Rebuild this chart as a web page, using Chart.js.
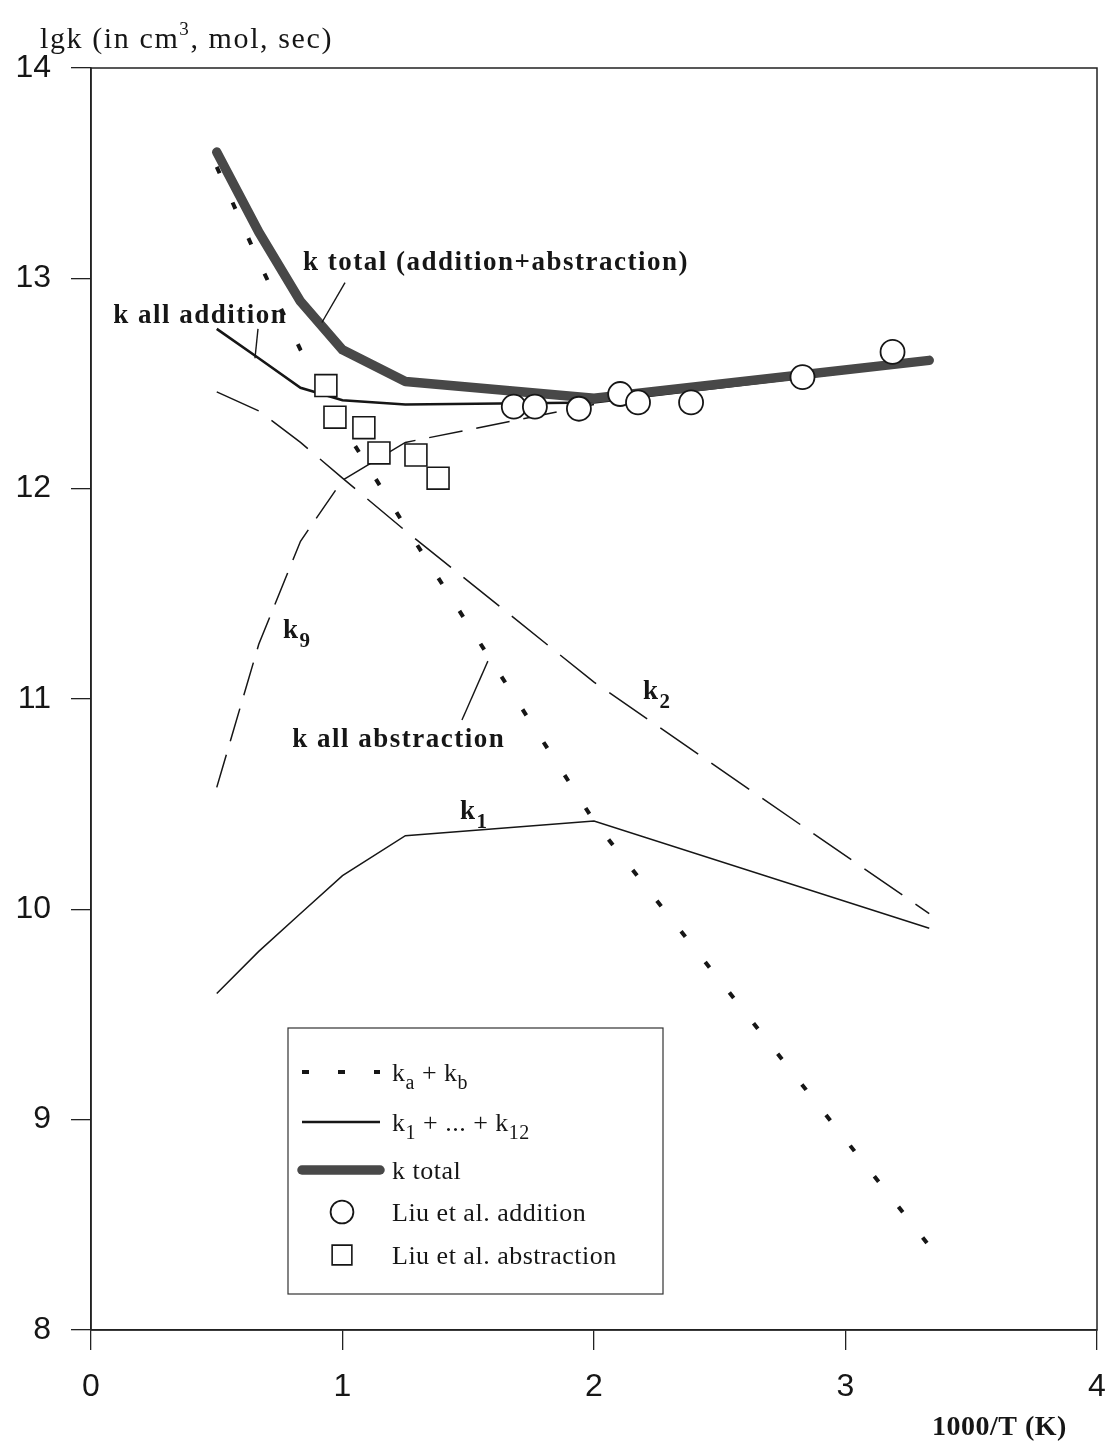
<!DOCTYPE html>
<html>
<head>
<meta charset="utf-8">
<script src="https://cdn.jsdelivr.net/npm/chart.js@4/dist/chart.umd.min.js"></script>
<style>
  html, body { margin: 0; padding: 0; background: #fff; }
  canvas { display: block; }
</style>
</head>
<body>
<canvas id="myChart" width="1110" height="1442"></canvas>
<script>
// 1000/T in 1/K  (T = 2000, 1500, 1200, 1000, 800, 500, 300 K)
var invT = [0.5, 0.667, 0.833, 1.0, 1.25, 2.0, 3.333];

// lg k values
var kTotal    = [13.60, 13.22, 12.89, 12.66, 12.51, 12.43, 12.61];
var kAbstract = [13.53, 13.08, 12.66, 12.30, 11.82, 10.42, 8.40];   // ka + kb
var kAddition = [12.76, 12.62, 12.48, 12.42, 12.40, 12.41, 12.60];  // k1 + ... + k12
var k2        = [12.46, 12.37, 12.22, 12.05, 11.80, 11.08, 9.98];
var k1        = [9.60, 9.80, 9.98, 10.16, 10.35, 10.42, 9.91];
var k9X       = [0.5, 0.667, 0.833, 1.0, 1.25, 2.0];
var k9        = [10.58, 11.26, 11.75, 12.04, 12.22, 12.40];

// Liu et al. experimental points
var liuAddX = [1.681, 1.765, 1.940, 2.104, 2.175, 2.386, 2.829, 3.187];
var liuAddY = [12.39, 12.39, 12.38, 12.45, 12.41, 12.41, 12.53, 12.65];
var liuAbsX = [0.934, 0.970, 1.085, 1.145, 1.292, 1.380];
var liuAbsY = [12.49, 12.34, 12.29, 12.17, 12.16, 12.05];

var xTicks = [0, 1, 2, 3, 4];
var yTicks = [8, 9, 10, 11, 12, 13, 14];

function pts(xs, ys) {
    return xs.map(function (x, i) { return { x: x, y: ys[i] }; });
}

var INK = '#161616';
var SERIF = '"Liberation Serif", "Times New Roman", serif';
var SANS = '"Liberation Sans", Arial, sans-serif';

var dsCircles = {
    label: 'Liu et al. addition', data: pts(liuAddX, liuAddY), showLine: false,
    pointStyle: 'circle', pointRadius: 12, pointBackgroundColor: '#fff',
    pointBorderColor: INK, pointBorderWidth: 1.8
};
var dsSquares = {
    label: 'Liu et al. abstraction', data: pts(liuAbsX, liuAbsY), showLine: false,
    pointStyle: 'rect', pointRadius: 15.5, pointBackgroundColor: '#fff',
    pointBorderColor: INK, pointBorderWidth: 1.6
};
var dsTotal = {
    label: 'k total', data: pts(invT, kTotal), showLine: true, pointRadius: 0,
    borderColor: '#484848', borderWidth: 9.5, borderCapStyle: 'round', borderJoinStyle: 'round'
};
var dsAbs = {
    label: 'ka + kb', data: pts(invT, kAbstract), showLine: true, pointRadius: 0,
    borderColor: INK, borderWidth: 4, borderDash: [7, 32], borderCapStyle: 'butt'
};
var dsAdd = {
    label: 'k1 + ... + k12', data: pts(invT, kAddition), showLine: true, pointRadius: 0,
    borderColor: INK, borderWidth: 2.6
};
var dsK2 = {
    label: 'k2', data: pts(invT, k2), showLine: true, pointRadius: 0,
    borderColor: INK, borderWidth: 1.5, borderDash: [46, 16]
};
var dsK9 = {
    label: 'k9', data: pts(k9X, k9), showLine: true, pointRadius: 0,
    borderColor: INK, borderWidth: 1.5, borderDash: [34, 14]
};
var dsK1 = {
    label: 'k1', data: pts(invT, k1), showLine: true, pointRadius: 0,
    borderColor: INK, borderWidth: 1.5
};

// rich text: parts = [[text, 'sub'|'sup'|undefined], ...]
function drawRich(ctx, x, y, parts, size, bold, spacing) {
    var w = bold ? 'bold ' : '';
    ctx.save();
    ctx.fillStyle = INK;
    ctx.textBaseline = 'alphabetic';
    ctx.textAlign = 'left';
    ctx.letterSpacing = (spacing || 0) + 'px';
    parts.forEach(function (p) {
        var s = size, dy = 0;
        if (p[1] === 'sub') { s = Math.round(size * 0.78); dy = size * 0.32; }
        if (p[1] === 'sup') { s = Math.round(size * 0.62); dy = -size * 0.42; }
        ctx.font = w + s + 'px ' + SERIF;
        ctx.fillText(p[0], x, y + dy);
        x += ctx.measureText(p[0]).width;
    });
    ctx.restore();
}

// annotations placed in data units (x = left of text, y = baseline)
var notes = [
    { x: 0.843, y: 13.04, parts: [['k total (addition+abstraction)']] },
    { x: 0.088, y: 12.79, parts: [['k all addition']] },
    { x: 0.763, y: 11.29, parts: [['k'], ['9', 'sub']] },
    { x: 0.800, y: 10.77, parts: [['k all abstraction']] },
    { x: 1.467, y: 10.43, parts: [['k'], ['1', 'sub']] },
    { x: 2.195, y: 11.00, parts: [['k'], ['2', 'sub']] }
];
var pointers = [
    [1.010, 12.98, 0.918, 12.79],
    [0.664, 12.76, 0.652, 12.62],
    [1.475, 10.90, 1.578, 11.18]
];

var legendRows = [
    { ds: dsAbs, parts: [['k'], ['a', 'sub'], [' + k'], ['b', 'sub']] },
    { ds: dsAdd, parts: [['k'], ['1', 'sub'], [' + ... + k'], ['12', 'sub']] },
    { ds: dsTotal, parts: [['k total']] },
    { ds: dsCircles, parts: [['Liu et al. addition']] },
    { ds: dsSquares, parts: [['Liu et al. abstraction']] }
];
var legendRowY = [44, 94, 142, 184, 227];

var decorPlugin = {
    id: 'decor',
    beforeDatasetsDraw: function (chart) {
        var ctx = chart.ctx, a = chart.chartArea;
        ctx.save();
        ctx.strokeStyle = '#222';
        ctx.lineWidth = 1.5;
        ctx.strokeRect(a.left, a.top, a.right - a.left, a.bottom - a.top);
        ctx.restore();
    },
    afterDraw: function (chart) {
        var ctx = chart.ctx, a = chart.chartArea;
        var sx = chart.scales.x, sy = chart.scales.y;

        // axis captions
        drawRich(ctx, 40, 48, [['lgk (in cm'], ['3', 'sup'], [', mol, sec)']], 30, false, 1.6);
        drawRich(ctx, 932, 1435, [['1000/T (K)']], 28, true, 0.5);

        // pointer lines
        ctx.save();
        ctx.strokeStyle = INK;
        ctx.lineWidth = 1.4;
        pointers.forEach(function (p) {
            ctx.beginPath();
            ctx.moveTo(sx.getPixelForValue(p[0]), sy.getPixelForValue(p[1]));
            ctx.lineTo(sx.getPixelForValue(p[2]), sy.getPixelForValue(p[3]));
            ctx.stroke();
        });
        ctx.restore();

        notes.forEach(function (n) {
            drawRich(ctx, sx.getPixelForValue(n.x), sy.getPixelForValue(n.y), n.parts, 27, true, 1.5);
        });

        // legend box
        var bx = a.left + 197, by = a.top + 960, bw = 375, bh = 266;
        ctx.save();
        ctx.fillStyle = '#fff';
        ctx.fillRect(bx, by, bw, bh);
        ctx.strokeStyle = '#333';
        ctx.lineWidth = 1.2;
        ctx.strokeRect(bx, by, bw, bh);
        legendRows.forEach(function (r, i) {
            var y = by + legendRowY[i];
            var ds = r.ds;
            if (ds.showLine === false) {
                ctx.save();
                ctx.fillStyle = ds.pointBackgroundColor;
                ctx.strokeStyle = ds.pointBorderColor;
                ctx.lineWidth = ds.pointBorderWidth;
                var rad = ds.pointStyle === 'rect' ? ds.pointRadius * 0.9 : ds.pointRadius * 0.95;
                Chart.helpers.drawPoint(ctx, { pointStyle: ds.pointStyle, radius: rad, rotation: 0, borderWidth: ds.pointBorderWidth }, bx + 54, y);
                ctx.restore();
            } else {
                ctx.save();
                ctx.strokeStyle = ds.borderColor;
                ctx.lineWidth = ds.borderWidth;
                ctx.lineCap = ds.borderCapStyle || 'butt';
                ctx.setLineDash(ds.borderDash ? [7, 29] : []);
                ctx.beginPath();
                ctx.moveTo(bx + 14, y);
                ctx.lineTo(bx + 92, y);
                ctx.stroke();
                ctx.restore();
            }
            drawRich(ctx, bx + 104, y + 9, r.parts, 26, false, 0.5);
        });
        ctx.restore();
    }
};

document.addEventListener('DOMContentLoaded', function () {
    var ctx = document.getElementById('myChart').getContext('2d');
    var tickFont = { family: SANS, size: 32 };
    new Chart(ctx, {
        type: 'scatter',
        data: {
            datasets: [dsCircles, dsSquares, dsTotal, dsAdd, dsAbs, dsK2, dsK9, dsK1]
        },
        options: {
            responsive: false,
            animation: false,
            layout: { autoPadding: false, padding: { top: 68, right: 13, bottom: 0, left: 0 } },
            plugins: { legend: { display: false }, tooltip: { enabled: false } },
            scales: {
                x: {
                    type: 'linear', min: 0, max: 4,
                    afterBuildTicks: function (s) { s.ticks = xTicks.map(function (v) { return { value: v }; }); },
                    ticks: { font: tickFont, color: INK, padding: 18, maxRotation: 0 },
                    grid: { drawOnChartArea: false, tickLength: 20, color: '#222', lineWidth: 1.3 },
                    border: { color: '#222', width: 1.5 },
                    afterFit: function (s) {
                        s.height = 112;
                        s.paddingLeft = 0; s.paddingRight = 0;
                    }
                },
                y: {
                    type: 'linear', min: 8, max: 14,
                    afterBuildTicks: function (s) { s.ticks = yTicks.map(function (v) { return { value: v }; }); },
                    ticks: { font: tickFont, color: INK, padding: 20 },
                    grid: { drawOnChartArea: false, tickLength: 20, color: '#222', lineWidth: 1.3 },
                    border: { color: '#222', width: 1.5 },
                    afterFit: function (s) {
                        s.width = 91;
                        s.paddingTop = 0; s.paddingBottom = 0;
                    }
                }
            }
        },
        plugins: [decorPlugin]
    });
});
</script>
</body>
</html>
